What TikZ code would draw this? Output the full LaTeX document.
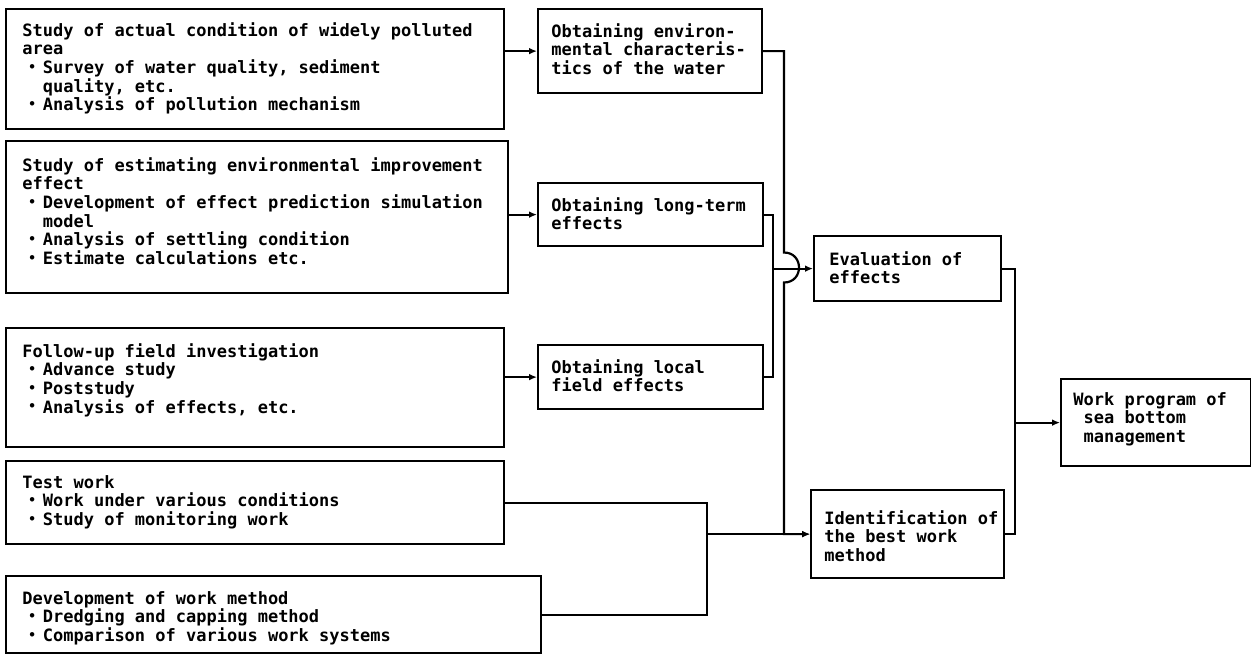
\documentclass[tikz,border=0pt]{standalone}
\usepackage{fontspec}
\setmonofont{DejaVu Sans Mono}
\usetikzlibrary{arrows.meta}
\newcommand\bl{\hspace*{0.35em}\makebox[0.854em][l]{\raisebox{0.12em}{\scalebox{0.75}{•}}}}
\newcommand\ind{\hspace*{1.204em}}
\newcommand\onesp{\hspace*{0.602em}}
\begin{document}
\begin{tikzpicture}[x=0.5pt,y=-0.5pt,
  lw/.style={line width=1.1pt},
  box/.style={draw,lw,anchor=north west,inner sep=0pt},
  txt/.style={anchor=north west,align=left,inner sep=0pt,
    font=\fontsize{8.5}{9.3}\selectfont\ttfamily\bfseries},
  arr/.style={lw,-{Latex[length=4pt,width=3.4pt]}},
  con/.style={lw}]
\useasboundingbox (0,0) rectangle (1251,655);
% boxes
\node[box,minimum width=249pt,minimum height=60pt] (a1) at (5,8) {};
\node[box,minimum width=251pt,minimum height=76pt] (a2) at (5,140) {};
\node[box,minimum width=249pt,minimum height=59.5pt] (a3) at (5,327) {};
\node[box,minimum width=249pt,minimum height=41.5pt] (a4) at (5,460) {};
\node[box,minimum width=267.5pt,minimum height=38.5pt] (a5) at (5,575) {};
\node[box,minimum width=112pt,minimum height=42pt] (b1) at (537,8) {};
\node[box,minimum width=112.5pt,minimum height=31.5pt] (b2) at (537,182) {};
\node[box,minimum width=112.5pt,minimum height=32pt] (b3) at (537,344) {};
\node[box,minimum width=93.5pt,minimum height=32.5pt] (c1) at (813,235) {};
\node[box,minimum width=96.5pt,minimum height=44pt] (c2) at (810,489) {};
\node[box,minimum width=95pt,minimum height=43.5pt] (d) at (1060,378) {};
% texts
\node[txt] (a1t) at ([shift={(17,14)}]a1.north west)
 {Study of actual condition of widely polluted\\area\\\bl Survey of water quality, sediment\\\ind quality, etc.\\\bl Analysis of pollution mechanism};
\node[txt] (a2t) at ([shift={(17,17)}]a2.north west)
 {Study of estimating environmental improvement\\effect\\\bl Development of effect prediction simulation\\\ind model\\\bl Analysis of settling condition\\\bl Estimate calculations etc.};
\node[txt] (a3t) at ([shift={(17,16)}]a3.north west)
 {Follow-up field investigation\\\bl Advance study\\\bl Poststudy\\\bl Analysis of effects, etc.};
\node[txt] (a4t) at ([shift={(17,15)}]a4.north west)
 {Test work\\\bl Work under various conditions\\\bl Study of monitoring work};
\node[txt] (a5t) at ([shift={(17,16)}]a5.north west)
 {Development of work method\\\bl Dredging and capping method\\\bl Comparison of various work systems};
\node[txt] (b1t) at ([shift={(14,15)}]b1.north west)
 {Obtaining environ-\\mental characteris-\\tics of the water};
\node[txt] (b2t) at ([shift={(14,15)}]b2.north west)
 {Obtaining long-term\\effects};
\node[txt] (b3t) at ([shift={(14,15)}]b3.north west)
 {Obtaining local\\field effects};
\node[txt] (c1t) at ([shift={(16,16)}]c1.north west)
 {Evaluation of\\effects};
\node[txt] (c2t) at ([shift={(14,21)}]c2.north west)
 {Identification of\\the best work\\method};
\node[txt] (dt) at ([shift={(13,14)}]d.north west)
 {Work program of\\\onesp sea bottom\\\onesp management};
% junction coordinates
\coordinate (xb) at (773,0);
\coordinate (xv) at (784,0);
\coordinate (xj) at (707,0);
\coordinate (xk) at (1015,0);
% A -> B
\draw[arr] (b1.west -| a1.east) -- (b1.west);
\draw[arr] (b2.west -| a2.east) -- (b2.west);
\draw[arr] (b3.west -| a3.east) -- (b3.west);
% B2,B3 -> C1
\draw[con] (b2.east) -- (b2.east -| xb) -- (b3.east -| xb) -- (b3.east);
\draw[arr] (c1.west -| xb) -- (c1.west);
% B1 -> C2 with jump
\draw[arr] (b1.east) -- (b1.east -| xv) -- (784,252.5)
  .. controls (804,252.5) and (804,282.5) .. (784,282.5) -- (c2.west -| xv) -- (c2.west);
% A4,A5 -> C2
\draw[con] (a4.east) -- (a4.east -| xj) -- (a5.east -| xj) -- (a5.east);
\draw[arr] (c2.west -| xj) -- (c2.west);
% C1,C2 -> D
\draw[con] (c1.east) -- (c1.east -| xk) -- (c2.east -| xk) -- (c2.east);
\draw[arr] (d.west -| xk) -- (d.west);
\end{tikzpicture}
\end{document}
